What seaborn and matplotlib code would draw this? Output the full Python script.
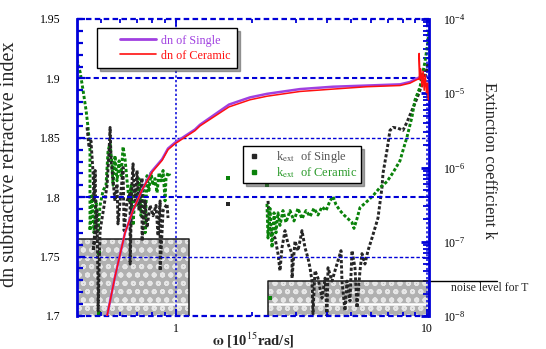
import numpy as np
import matplotlib
matplotlib.use("Agg")
import matplotlib.pyplot as plt
import matplotlib.transforms as mtransforms
from matplotlib.lines import Line2D
from matplotlib.legend_handler import HandlerLine2D
from matplotlib.ticker import (FixedLocator, FuncFormatter, LogLocator,
                               LogFormatterMathtext, MultipleLocator, NullFormatter)
import seaborn as sns

# ---- refractive index change dn(omega) ----
omega_dn = [0.531, 0.571, 0.626, 0.674, 0.732, 0.802, 0.880, 0.929, 0.991, 1.190, 1.246,
            1.626, 1.971, 2.304, 3.119, 4.222, 5.768, 7.807, 8.557, 9.124, 9.378]
dn_single = [1.700, 1.733, 1.770, 1.789, 1.806, 1.822, 1.832, 1.841, 1.846, 1.857, 1.861,
             1.878, 1.884, 1.887, 1.891, 1.893, 1.894, 1.895, 1.897, 1.900, 1.901]
dn_ceramic = [1.700, 1.733, 1.770, 1.789, 1.806, 1.821, 1.831, 1.840, 1.845, 1.856, 1.860,
              1.876, 1.882, 1.885, 1.889, 1.891, 1.893, 1.894, 1.896, 1.899, 1.900]
omega_dn_tail = [9.31, 9.33, 9.45, 9.55, 9.65, 9.75, 9.85, 9.95, 10.05, 10.12]
dn_ceramic_tail = [1.921, 1.899, 1.908, 1.893, 1.906, 1.890, 1.903, 1.888, 1.896, 1.882]

# ---- extinction coefficient k (log10 k), ceramic ----
omega_cer_lo = [0.403, 0.415, 0.426, 0.438, 0.446, 0.454, 0.454, 0.463, 0.471, 0.480, 0.489,
                0.498, 0.512, 0.526, 0.536, 0.546, 0.556, 0.561, 0.571, 0.582, 0.593, 0.604,
                0.615, 0.626, 0.638, 0.650, 0.662, 0.674, 0.687, 0.699, 0.712, 0.725, 0.739,
                0.753, 0.766, 0.780, 0.795, 0.810, 0.825, 0.840, 0.856, 0.871, 0.888, 0.904,
                0.912, 0.929, 0.946]
logk_cer_lo = [-4.55, -4.72, -4.96, -5.23, -5.46, -5.77, -6.85, -6.38, -6.88, -6.45, -6.85,
               -6.51, -6.31, -6.24, -5.77, -5.68, -5.97, -6.24, -5.84, -6.18, -5.91, -6.11,
               -5.72, -5.88, -6.18, -6.45, -6.24, -6.78, -6.31, -6.51, -6.15, -6.65, -6.24,
               -6.88, -6.11, -6.31, -6.07, -6.24, -6.15, -6.34, -6.07, -6.18, -6.04, -6.45,
               -6.15, -6.07, -6.11]
omega_cer_hi = [2.304, 2.326, 2.369, 2.413, 2.458, 2.502, 2.549, 2.596, 2.668, 2.743, 2.846,
                2.952, 3.063, 3.177, 3.296, 3.419, 3.546, 3.679, 3.817, 3.960, 4.107, 4.222,
                4.340, 4.502, 4.670, 4.845, 5.026, 5.119, 5.262, 5.409, 5.715, 6.095, 6.498,
                6.929, 7.320, 7.807, 8.025, 8.325, 8.714, 8.959, 9.378, 9.818, 10.09, 10.19]
logk_cer_hi = [-6.49, -6.95, -6.55, -7.08, -6.61, -6.88, -6.61, -6.78, -6.58, -6.74, -6.58,
               -6.72, -6.55, -6.69, -6.58, -6.66, -6.55, -6.64, -6.53, -6.58, -6.45, -6.39,
               -6.50, -6.58, -6.64, -6.69, -6.74, -6.82, -6.69, -6.54, -6.47, -6.38, -6.27,
               -6.19, -6.07, -5.91, -5.77, -5.59, -5.32, -5.09, -4.92, -4.58, -4.31, -4.15]
omega_cer_pts = [0.493, 0.493, 1.611, 2.304, 2.369]
logk_cer_pts = [-7.15, -7.96, -6.14, -6.24, -7.76]

# ---- extinction coefficient k (log10 k), single crystal ----
omega_sgl_lo = [0.442, 0.450, 0.458, 0.467, 0.471, 0.476, 0.480, 0.467, 0.484, 0.489, 0.489,
                0.498, 0.517, 0.531, 0.541, 0.546, 0.551, 0.561, 0.571, 0.582, 0.587, 0.604,
                0.615, 0.621, 0.638, 0.656, 0.656, 0.668, 0.674, 0.681, 0.687, 0.699, 0.712,
                0.732, 0.732, 0.753, 0.766, 0.788, 0.810, 0.832, 0.848, 0.864, 0.864, 0.888,
                0.921, 0.929]
logk_sgl_lo = [-5.46, -5.73, -5.64, -6.07, -6.45, -6.04, -6.88, -7.12, -6.58, -7.66, -7.93,
               -6.85, -6.51, -6.24, -5.77, -5.46, -5.91, -6.18, -6.45, -6.22, -6.76, -6.31,
               -6.00, -6.85, -6.45, -6.35, -7.30, -6.18, -5.95, -6.31, -6.45, -6.04, -6.58,
               -6.14, -6.99, -6.45, -6.81, -6.51, -6.65, -6.51, -6.92, -6.45, -7.39, -6.58,
               -6.49, -6.68]
omega_sgl_hi = [2.326, 2.369, 2.480, 2.549, 2.596, 2.644, 2.718, 2.795, 2.899, 2.899, 2.979,
                3.063, 3.177, 3.266, 3.357, 3.419, 3.482, 3.514, 3.579, 3.679, 3.817, 3.924,
                3.997, 4.034, 4.183, 4.300, 4.544, 4.585, 4.713, 4.800, 4.934, 5.026, 5.166,
                5.262, 5.409, 5.508, 5.662, 5.820, 6.039, 6.380, 6.619, 6.680, 6.929, 7.122,
                7.320, 7.666, 8.025, 8.325, 8.714, 9.124, 9.378, 9.641, 9.909, 10.09]
logk_sgl_hi = [-6.45, -6.85, -6.95, -7.16, -7.39, -7.08, -6.85, -7.03, -7.16, -7.49, -6.99,
               -7.12, -6.85, -7.08, -7.22, -7.35, -7.53, -7.97, -7.39, -7.49, -7.76, -7.49,
               -8.00, -7.35, -7.53, -7.39, -7.12, -7.53, -7.93, -7.53, -7.80, -7.12, -7.35,
               -7.89, -7.39, -7.16, -7.30, -7.12, -6.95, -6.68, -6.27, -6.08, -5.77, -5.50,
               -5.46, -5.47, -5.50, -5.39, -5.23, -5.07, -4.96, -4.86, -4.73, -4.59]
omega_sgl_pts = [1.611]
logk_sgl_pts = [-6.49]

# ---- noise level bands for k ----
noise_start = [0.403, 2.33]
noise_end = [1.127, 10.19]
noise_level = [1.1e-7, 2.97e-8]

BLUE = "#0000d8"
PURPLE = "#a040e0"
RED = "#ff1010"
GREEN = "#0a820a"
DARK = "#262626"

sns.set_theme(style="white")
plt.rcParams["font.family"] = ["Liberation Serif", "DejaVu Serif"]
plt.rcParams["mathtext.fontset"] = "stix"
plt.rcParams["hatch.linewidth"] = 1.3

fig = plt.figure(figsize=(5.46, 3.49), dpi=100)
fig.patch.set_facecolor("white")
ax = fig.add_axes([77 / 546, 1 - 316 / 349, 352 / 546, 297 / 349])
ax2 = ax.twinx()
ax.set_zorder(2)
ax2.set_zorder(1)
ax.patch.set_visible(False)

ax.set_xscale("log")
ax.set_xlim(0.403, 10.19)
ax.set_ylim(1.7, 1.95)
ax2.set_yscale("log")
ax2.set_ylim(1e-8, 1e-4)

# noise bands
trans = mtransforms.blended_transform_factory(ax2.transAxes, ax2.transData)
for a, b, lev in zip(noise_start, noise_end, noise_level):
    ax2.fill_between([a, b], 1e-8, lev, facecolor="#b0b0b0", edgecolor="#e6e6e6",
                     hatch="oo", linewidth=0, zorder=0)
    ax2.hlines(1.45e-8, a, b, color="white", lw=1.8, zorder=0.5)
    ax2.plot([a, a, b, b], [1e-8, lev, lev, 1e-8], color="#1a1a1a", lw=1.1, zorder=0.6)
ax2.plot([1.0, 1.193], [noise_level[1], noise_level[1]], transform=trans,
         clip_on=False, color="black", lw=1.0)
ax2.text(1.0625, 2.35e-8, "noise level for T", transform=trans, fontsize=8.5,
         va="center", ha="left")

# extinction coefficient traces
dots = (0, (1.1, 0.7))
for om, lk, col in [(omega_cer_lo, logk_cer_lo, GREEN), (omega_sgl_lo, logk_sgl_lo, DARK),
                    (omega_sgl_hi, logk_sgl_hi, DARK), (omega_cer_hi, logk_cer_hi, GREEN)]:
    sns.lineplot(x=om, y=10.0 ** np.array(lk), ax=ax2, sort=False, estimator=None,
                 color=col, lw=2.1, linestyle=dots)
sns.scatterplot(x=omega_cer_pts, y=10.0 ** np.array(logk_cer_pts), ax=ax2, color=GREEN,
                marker="s", s=5, linewidth=0)
sns.scatterplot(x=omega_sgl_pts, y=10.0 ** np.array(logk_sgl_pts), ax=ax2, color=DARK,
                marker="s", s=5, linewidth=0)

# dn curves
sns.lineplot(x=omega_dn, y=dn_single, ax=ax, sort=False, estimator=None, color=PURPLE, lw=1.8)
sns.lineplot(x=omega_dn + omega_dn_tail, y=dn_ceramic + dn_ceramic_tail, ax=ax, sort=False,
             estimator=None, color=RED, lw=1.1)

# grid lines
for yv, w in [(1.75, 1.0), (1.8, 1.5), (1.85, 1.0), (1.9, 1.5)]:
    ax.axhline(yv, color=BLUE, lw=w, ls=(0, (2.5, 1.5)), zorder=1)
for yv in (1.7, 1.95):
    ax.axhline(yv, color=BLUE, lw=1.6, ls=(0, (2.5, 1.5)), clip_on=False, zorder=1)
for xv in (1, 10):
    ax.axvline(xv, color=BLUE, lw=1.1, ls=(0, (1.5, 1.5)), zorder=1)

# spines
for s in ("top", "bottom", "right"):
    ax.spines[s].set_visible(False)
for s in ("top", "bottom", "left"):
    ax2.spines[s].set_visible(False)
ax.spines["left"].set_color(BLUE)
ax.spines["left"].set_linewidth(2)
ax2.spines["right"].set_color(BLUE)
ax2.spines["right"].set_linewidth(2)

# ticks
ax.yaxis.set_major_locator(MultipleLocator(0.05))
ax.yaxis.set_minor_locator(MultipleLocator(0.01))
ax.yaxis.set_major_formatter(FuncFormatter(lambda v, p: f"{v:g}"))
ax.xaxis.set_major_locator(FixedLocator([1, 10]))
ax.xaxis.set_major_formatter(FuncFormatter(lambda v, p: f"{v:g}"))
ax.xaxis.set_minor_locator(LogLocator(base=10, subs=np.arange(2, 10)))
ax.xaxis.set_minor_formatter(NullFormatter())
ax.tick_params(axis="y", which="both", direction="in", color=BLUE, labelcolor="black",
               labelsize=8.5, left=True, right=False, pad=12)
ax.tick_params(axis="y", which="major", length=6, width=1.6)
ax.tick_params(axis="y", which="minor", length=4, width=1.6)
ax.tick_params(axis="x", which="both", direction="in", color=BLUE, labelcolor="black",
               labelsize=8.5, top=True, bottom=True, pad=5)
ax.tick_params(axis="x", which="major", length=5, width=1.3)
ax.tick_params(axis="x", which="minor", length=3, width=1.3)

ax2.yaxis.set_major_locator(LogLocator(base=10))
ax2.yaxis.set_major_formatter(LogFormatterMathtext())
ax2.yaxis.set_minor_locator(LogLocator(base=10, subs=np.arange(2, 10)))
ax2.yaxis.set_minor_formatter(NullFormatter())
ax2.tick_params(axis="y", which="both", direction="in", color=BLUE, labelcolor="black",
                labelsize=8.5, right=True, left=False, pad=10)
ax2.tick_params(axis="y", which="major", length=6, width=2)
ax2.tick_params(axis="y", which="minor", length=4, width=1.3)

# axis labels
ax.set_xlabel(r"$\mathbf{\omega}$ [10$^{15}$rad/s]", fontsize=10.5, fontweight="bold")
ax.xaxis.set_label_coords(0.5, -0.05)
ax.set_ylabel("dn subtractive refractive index", fontsize=14.5)
ax.yaxis.set_label_coords(-0.165, 0.51)
ax2.set_ylabel("Extinction coefficient k", fontsize=12, rotation=270, va="center")
ax2.yaxis.set_label_coords(1.17, 0.525)

# legends
h1 = [Line2D([], [], color=PURPLE, lw=2), Line2D([], [], color=RED, lw=1.2)]
leg1 = ax.legend(h1, ["dn of Single", "dn of Ceramic"], loc="upper left",
                 bbox_to_anchor=(0.057, 0.97), borderaxespad=0, fontsize=8.7,
                 handlelength=4.3, handletextpad=0.4, borderpad=0.55, labelspacing=0.25,
                 handler_map={Line2D: HandlerLine2D(xpad=1.37)},
                 frameon=True, fancybox=False, shadow=True, edgecolor="black",
                 labelcolor=[PURPLE, RED])
leg1.get_frame().set_linewidth(1.0)
ax.add_artist(leg1)

h2 = [Line2D([], [], ls="none", marker="s", ms=2.2, color=DARK),
      Line2D([], [], ls="none", marker="s", ms=2.2, color=GREEN)]
leg2 = ax.legend(h2, [r"k$_{\rm ext}$  of Single", r"k$_{\rm ext}$  of Ceramic"],
                 loc="upper left", bbox_to_anchor=(0.472, 0.572), borderaxespad=0,
                 fontsize=9, handlelength=1.2, handletextpad=1.2, borderpad=0.25,
                 labelspacing=0.0, frameon=True, fancybox=False, shadow=True,
                 edgecolor="black", labelcolor=["#555555", "#2a9a2a"])
leg2.get_frame().set_linewidth(1.0)

fig.savefig("out.png", dpi=100, facecolor="white")
